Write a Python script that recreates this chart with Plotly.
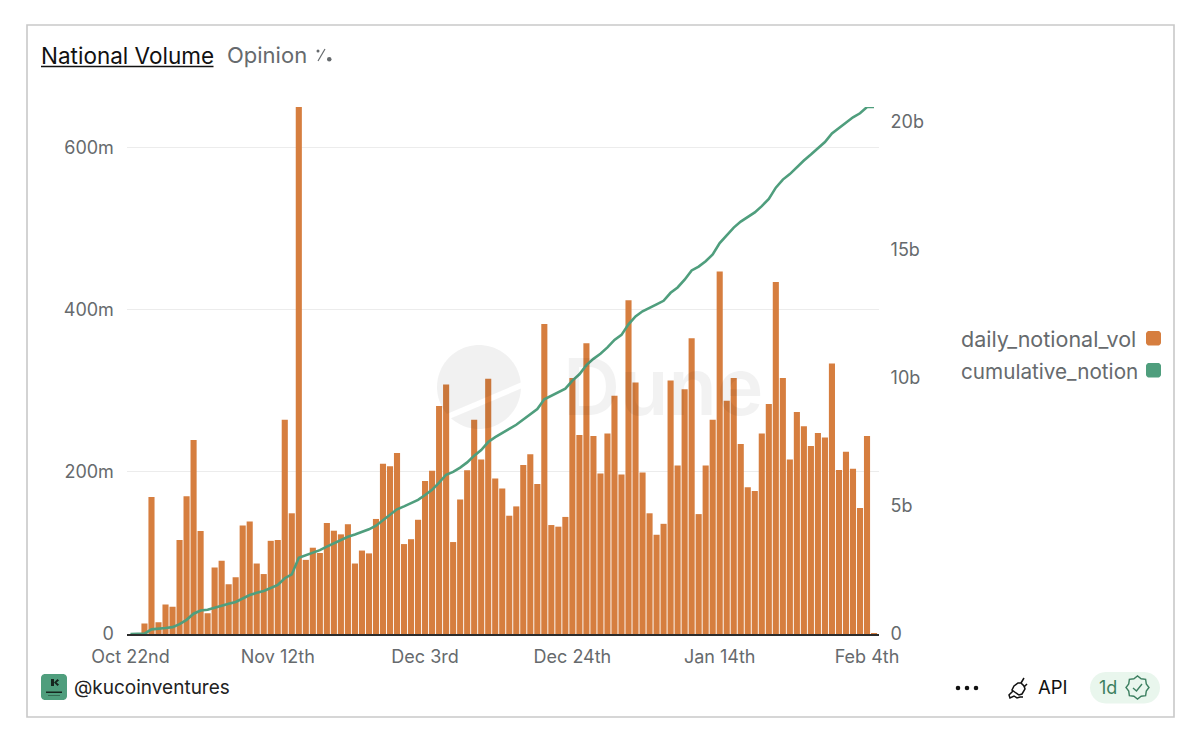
import numpy as np
import pandas as pd
import plotly.graph_objects as go

W, H = 1200, 744
dates = pd.date_range("2024-10-22", periods=107, freq="D").strftime("%Y-%m-%d").tolist()

daily_notional_vol = [
    0, 0, 13, 169, 14.5, 36.5, 33.5, 116, 170, 239.5, 127, 25.5, 82, 90.5, 61.5, 70, 134, 139, 87, 74,
    115, 116, 264.5, 149, 650.5, 91.5, 106.5, 100, 137, 127.5, 123, 135.5, 87, 103, 99.5, 142, 210, 207, 223.5, 111,
    117, 141, 189, 201.5, 281.5, 308, 113.5, 166, 202, 264.5, 215.5, 315, 192, 179.5, 146, 157.5, 208.5, 222, 185, 382.5,
    134.5, 132.5, 144.5, 316, 245.5, 359, 244.5, 198, 247.5, 294, 197, 412, 310.5, 199.5, 149, 122.5, 136, 313, 208, 302,
    365, 148, 208, 264.5, 447.5, 288, 316, 234.5, 181, 176.5, 247.5, 284, 434.5, 316, 215.5, 274, 256.5, 232, 248, 242.5,
    334, 202.5, 225, 204, 155.5, 244.5, 1,
]
cumulative_notional_vol = [
    0, 0, 13, 182, 197, 233, 267, 383, 553, 792, 919, 945, 1027, 1117, 1179, 1249, 1383, 1522, 1609, 1683,
    1798, 1914, 2178, 2327, 2978, 3069, 3176, 3276, 3413, 3540, 3663, 3799, 3886, 3989, 4088, 4230, 4440, 4647, 4871, 4982,
    5099, 5240, 5429, 5630, 5912, 6220, 6333, 6499, 6701, 6966, 7181, 7496, 7688, 7868, 8014, 8171, 8380, 8602, 8787, 9169,
    9304, 9436, 9581, 9897, 10142, 10501, 10746, 10944, 11191, 11485, 11682, 12094, 12405, 12604, 12753, 12876, 13012, 13325, 13533, 13835,
    14200, 14348, 14556, 14820, 15268, 15556, 15872, 16106, 16287, 16464, 16711, 16995, 17430, 17746, 17961, 18235, 18492, 18724, 18972, 19214,
    19548, 19751, 19976, 20180, 20335, 20580, 20581,
]

x_tick_dates = ["2024-10-22", "2024-11-12", "2024-12-03", "2024-12-24", "2025-01-14", "2025-02-04"]
x_tick_labels = ["Oct 22nd", "Nov 12th", "Dec 3rd", "Dec 24th", "Jan 14th", "Feb 4th"]
left_ticks = [0, 200, 400, 600]
left_labels = ["0", "200m", "400m", "600m"]
right_ticks = [0, 5000, 10000, 15000, 20000]
right_labels = ["0", "5b", "10b", "15b", "20b"]

ORANGE = "#d67e3f"
GREEN = "#4f9e7d"
GREY = "#666a6d"
FONT = "Inter"


def px(x):
    return x / W


def py(y):
    return 1 - y / H


def path(points, close=True):
    s = "M " + " L ".join(f"{px(a):.5f},{py(b):.5f}" for a, b in points)
    return s + (" Z" if close else "")


def rect(x0, y0, x1, y1, **kw):
    return dict(type="rect", xref="paper", yref="paper", x0=px(x0), x1=px(x1), y0=py(y0), y1=py(y1), **kw)


def rrect(x0, y0, x1, y1, r, n=8):
    pts = []
    for cx, cy, a0 in [(x1 - r, y0 + r, -90), (x1 - r, y1 - r, 0), (x0 + r, y1 - r, 90), (x0 + r, y0 + r, 180)]:
        for t in np.radians(np.linspace(a0, a0 + 90, n)):
            pts.append((cx + r * np.cos(t), cy + r * np.sin(t)))
    return path(pts)


def shape_path(points, close=True, **kw):
    return dict(type="path", xref="paper", yref="paper", path=path(points, close), **kw)


def text(x, y, s, size, color, anchor="left", **fontkw):
    return dict(xref="paper", yref="paper", x=px(x - 2), y=py(y), text=s, showarrow=False, xanchor=anchor,
                yanchor="middle", align=anchor, font=dict(family=FONT, size=size, color=color, **fontkw))


fig = go.Figure()
fig.add_trace(go.Bar(x=dates, y=daily_notional_vol, name="daily_notional_vol", marker=dict(color=ORANGE, line_width=0),
                     yaxis="y"))
fig.add_trace(go.Scatter(x=dates, y=cumulative_notional_vol, name="cumulative_notional_vol", mode="lines",
                         line=dict(color=GREEN, width=2.6), yaxis="y2"))

shapes = [
    rect(27, 25, 1174, 717, line=dict(color="#c9c9c9", width=1.6), fillcolor="white", layer="below"),
    # title underline
    dict(type="line", xref="paper", yref="paper", x0=px(41), x1=px(213.5), y0=py(66.5), y1=py(66.5),
         line=dict(color="#111", width=1.6)),
    # percent icon
    dict(type="line", xref="paper", yref="paper", x0=px(318), x1=px(325), y0=py(61), y1=py(49),
         line=dict(color=GREY, width=1.2)),
    dict(type="circle", xref="paper", yref="paper", x0=px(316.5), x1=px(319.5), y0=py(52.5), y1=py(49.5),
         fillcolor=GREY, line_width=0),
    dict(type="circle", xref="paper", yref="paper", x0=px(327), x1=px(331.5), y0=py(61.5), y1=py(57),
         fillcolor=GREY, line_width=0),
    # legend swatches
    dict(type="path", xref="paper", yref="paper", path=rrect(1146, 331, 1161, 345.5, 3), fillcolor=ORANGE, line_width=0),
    dict(type="path", xref="paper", yref="paper", path=rrect(1146, 363, 1161, 377.5, 3), fillcolor=GREEN, line_width=0),
    # avatar
    dict(type="path", xref="paper", yref="paper", path=rrect(41, 674, 67, 700, 4), fillcolor=GREEN, line_width=0),
    # freshness pill
    dict(type="path", xref="paper", yref="paper", path=rrect(1090, 672, 1160, 703.5, 15.7), fillcolor="#e9f6ed", line_width=0),
]

# watermark: disc cut by a diagonal band
cx, cy, r = 479, 387, 42
ang = np.radians(np.linspace(0, 360, 181))
circ = np.c_[cx + r * np.cos(ang), cy + r * np.sin(ang)]
dirv = np.array([np.cos(np.radians(-23)), np.sin(np.radians(-23))])
nrm = np.array([-dirv[1], dirv[0]])
for offset, sign in [(12.5, -1), (16.5, 1)]:
    d = (circ - [cx, cy]) @ nrm
    keep = circ[(d - offset) * sign > 0]
    angs = np.arctan2(keep[:, 1] - cy, keep[:, 0] - cx)
    base = np.arctan2(*(nrm * sign)[::-1])
    rel = (angs - base + np.pi) % (2 * np.pi)
    keep = keep[np.argsort(rel)]
    shapes.append(shape_path(keep.tolist(), fillcolor="rgba(0,0,0,0.055)", line_width=0, layer="above"))

# avatar mark
shapes.append(shape_path([(51, 679), (51, 686), (54, 686), (54, 679)], fillcolor="#16261f", line_width=0))
shapes.append(shape_path([(54, 682.5), (57.5, 679), (59, 680.5), (56.5, 682.5), (59, 684.5), (57.5, 686)],
                         fillcolor="#16261f", line_width=0))
shapes.append(rect(46, 691.5, 62, 693, fillcolor="#16261f", line_width=0))
shapes.append(rect(48, 695, 60, 695.8, fillcolor="#2f5f4a", line_width=0))

# more dots
for x0 in (958, 967, 976):
    shapes.append(dict(type="circle", xref="paper", yref="paper", x0=px(x0 - 2.3), x1=px(x0 + 2.3), y0=py(690.3), y1=py(685.7),
                       fillcolor="#111", line_width=0))

# plug icon
plug = dict(line=dict(color="#111", width=1.5), fillcolor="rgba(0,0,0,0)")
shapes.append(shape_path([(1021, 683), (1024, 686), (1025, 689), (1022, 694), (1019, 695), (1016, 693), (1012, 690), (1014, 686), (1018, 683)], **plug))
shapes.append(shape_path([(1021, 683), (1024, 678)], close=False, **plug))
shapes.append(shape_path([(1024, 687), (1027, 684)], close=False, **plug))
shapes.append(shape_path([(1013, 691), (1009, 695), (1010, 698), (1014, 696), (1017, 698), (1020, 697), (1023, 697)], close=False, **plug))

# verified badge
bcx, bcy = 1137.5, 687.5
t = np.radians(np.arange(0, 360, 22.5))
rad = np.where(np.arange(16) % 2 == 0, 11.5, 9.5)
shapes.append(shape_path(np.c_[bcx + rad * np.cos(t), bcy + rad * np.sin(t)].tolist(),
                         line=dict(color="#3c7f60", width=1.4), fillcolor="rgba(0,0,0,0)"))
shapes.append(shape_path([(1133, 688), (1136.5, 691), (1142, 684)], close=False,
                         line=dict(color="#3c7f60", width=1.4), fillcolor="rgba(0,0,0,0)"))

annotations = [
    text(41, 55, "National Volume", 22.5, "#111"),
    text(227, 55, "Opinion", 22, GREY),
    text(961, 339, "daily_notional_vol", 21.5, GREY),
    text(961, 371, "cumulative_notion", 20.7, GREY),
    text(74, 687, "@kucoinventures", 19, "#222"),
    text(1038, 687, "API", 18.5, "#111"),
    text(1099, 687.5, "1d", 18, "#3c7f60"),
    text(563, 386, "Dune", 79, "rgba(0,0,0,0.05)", weight=600),
]

tickfont = dict(family=FONT, size=18, color=GREY)
fig.update_layout(
    width=W, height=H,
    margin=dict(l=0, r=0, t=0, b=0, pad=0),
    paper_bgcolor="white", plot_bgcolor="rgba(0,0,0,0)",
    showlegend=False, bargap=0.13,
    shapes=shapes, annotations=annotations,
    xaxis=dict(
        type="date", domain=[px(126.5), px(879)], automargin=False,
        range=["2024-10-21 10:30", "2025-02-05 17:00"],
        tickmode="array", tickvals=x_tick_dates, ticktext=x_tick_labels, tickfont=tickfont,
        ticks="outside", ticklen=6, tickcolor="rgba(0,0,0,0)", showgrid=False, zeroline=False,
        showline=True, linecolor="#2c2c2c", linewidth=1.6,
    ),
    yaxis=dict(
        domain=[py(634), py(107)], range=[0, 650.5], automargin=False,
        tickmode="array", tickvals=left_ticks, ticktext=left_labels, tickfont=tickfont,
        ticks="outside", ticklen=8, tickcolor="rgba(0,0,0,0)",
        gridcolor="#ececec", gridwidth=1.4, zeroline=False, showline=False,
    ),
    yaxis2=dict(
        overlaying="y", side="right", range=[0, 20581], automargin=False,
        tickmode="array", tickvals=right_ticks, ticktext=right_labels, tickfont=tickfont,
        ticks="outside", ticklen=7, tickcolor="rgba(0,0,0,0)",
        showgrid=False, zeroline=False, showline=False,
    ),
)

fig.write_html("out.html", config={"displayModeBar": False},
               post_script="document.body.style.margin='0';document.body.style.overflow='hidden';")
